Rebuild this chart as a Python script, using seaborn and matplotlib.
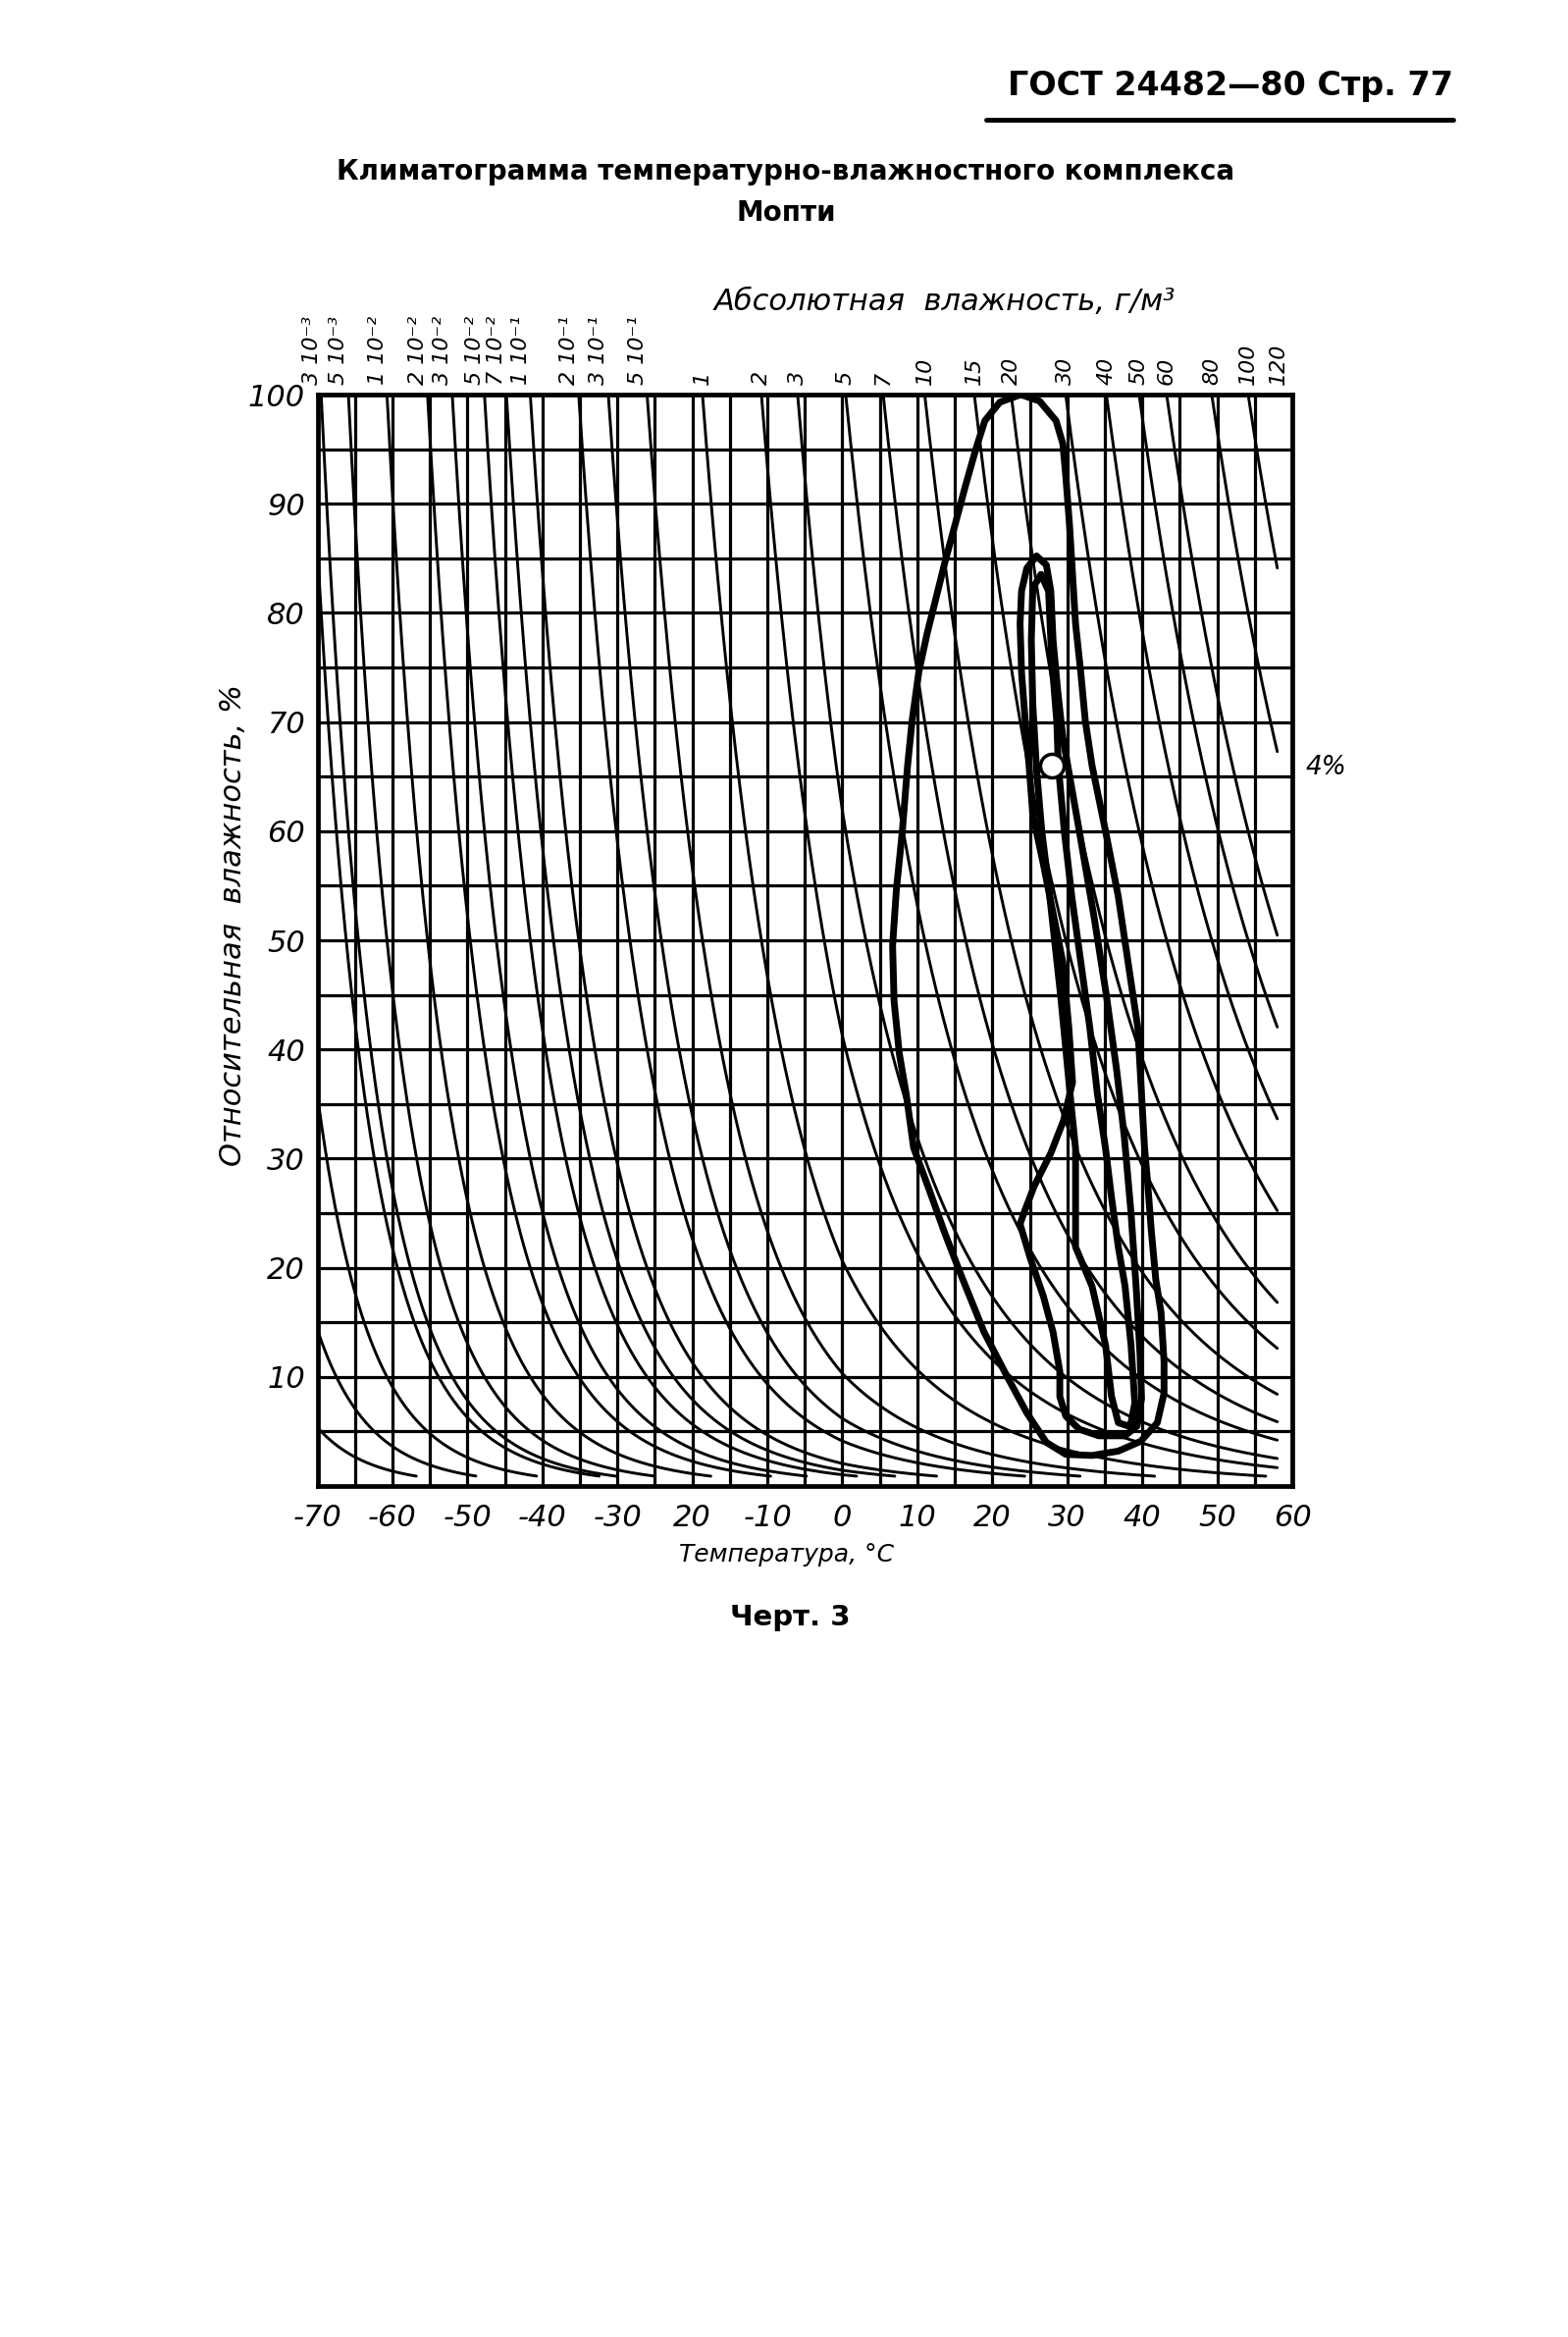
import numpy as np
import pandas as pd
import matplotlib
matplotlib.use("Agg")
import matplotlib.pyplot as plt
import seaborn as sns
from matplotlib.lines import Line2D

# ---------------- data ----------------
# absolute humidity iso-lines, g/m^3 (labelled ones)
abs_hum = [3e-3, 5e-3, 1e-2, 2e-2, 3e-2, 5e-2, 7e-2, 1e-1, 2e-1, 3e-1, 5e-1,
           1, 2, 3, 5, 7, 10, 15, 20, 30, 40, 50, 60, 80, 100, 120]
abs_hum_labels = ["3 10⁻³", "5 10⁻³", "1 10⁻²", "2 10⁻²", "3 10⁻²", "5 10⁻²",
                  "7 10⁻²", "1 10⁻¹", "2 10⁻¹", "3 10⁻¹", "5 10⁻¹",
                  "1", "2", "3", "5", "7", "10", "15", "20", "30", "40", "50",
                  "60", "80", "100", "120"]
# unlabelled iso-lines entering from the left edge
abs_hum_extra = [2.4e-3, 1.0e-3, 4.0e-4, 1.5e-4]

x_ticks = [-70, -60, -50, -40, -30, -20, -10, 0, 10, 20, 30, 40, 50, 60]
x_tick_labels = ["-70", "-60", "-50", "-40", "-30", "20", "-10", "0", "10",
                 "20", "30", "40", "50", "60"]
y_ticks = [10, 20, 30, 40, 50, 60, 70, 80, 90, 100]

# climatogram contours (temperature °C, relative humidity %)
loopA_T = [23.8, 21.0, 19.0, 17.8, 16.4, 15.0, 13.7, 12.4, 11.3, 10.2, 9.3, 8.7,
           8.0, 7.2, 6.7, 6.9, 7.6, 8.5, 9.5, 11.5, 13.7, 15.9, 18.9, 22.0, 24.6,
           27.2, 29.8, 33.3, 36.8, 39.8, 42.0, 42.9, 42.9, 42.5, 41.8, 41.2, 40.7,
           40.3, 39.4, 38.1, 36.8, 35.1, 33.3, 32.4, 31.8, 31.1, 30.7, 30.3, 29.8,
           29.4, 28.5, 26.3, 23.8]
loopA_RH = [100, 99.3, 97.6, 95.0, 91.6, 88.0, 84.7, 81.1, 78.1, 74.6, 70.1, 66.0,
            60.0, 54.6, 49.5, 44.4, 39.6, 36.0, 31.0, 27.3, 23.1, 19.2, 14.1, 10.0,
            6.7, 4.0, 2.9, 2.8, 3.2, 4.1, 5.8, 8.5, 11.4, 15.9, 18.9, 23.4, 27.9,
            31.0, 42.0, 48.0, 54.0, 60.0, 66.0, 70.1, 74.5, 79.0, 83.5, 88.0, 92.5,
            95.5, 97.6, 99.4, 100]

loopB_T = [25.9, 24.6, 23.9, 23.7, 23.9, 24.4, 24.9, 25.4, 26.8, 28.1, 29.4, 30.2,
           30.7, 29.5, 27.8, 25.6, 24.2, 23.7, 25.0, 26.8, 28.1, 29.0, 29.0, 29.8,
           31.6, 34.2, 37.7, 39.3, 39.9, 39.7, 39.2, 38.5, 37.6, 36.6, 35.2, 33.6,
           31.6, 29.4, 28.7, 28.1, 27.8, 27.2, 25.9]
loopB_RH = [85.2, 84.1, 82.0, 79.0, 74.5, 70.0, 66.0, 61.5, 57.0, 52.5, 48.0, 42.0,
            37.0, 33.5, 30.5, 27.5, 25.0, 24.0, 21.0, 17.4, 14.1, 10.5, 8.2, 6.4,
            5.2, 4.6, 4.6, 5.5, 8.0, 12.0, 18.0, 25.0, 32.0, 38.0, 45.0, 52.0,
            60.0, 68.6, 73.0, 77.5, 82.0, 84.4, 85.2]

loopC_T = [26.5, 25.4, 25.2, 25.4, 25.9, 26.6, 27.5, 28.3, 29.1, 29.8, 30.5, 31.1,
           31.1, 33.3, 35.1, 35.9, 36.8, 38.1, 38.5, 39.0, 38.5, 37.7, 36.8, 35.9,
           35.1, 34.0, 33.0, 31.8, 30.6, 29.6, 28.8, 28.6, 27.9, 27.5, 26.5]
loopC_RH = [83.5, 82.3, 77.5, 71.6, 65.6, 60.0, 55.0, 50.0, 45.0, 40.0, 35.0, 30.9,
            21.9, 18.3, 12.9, 8.2, 5.8, 5.5, 5.8, 7.6, 12.9, 18.3, 21.9, 26.4,
            30.9, 36.0, 42.0, 48.0, 54.0, 60.0, 66.0, 70.0, 76.0, 82.0, 83.5]

marker_T = [28.0]
marker_RH = [66.0]


# ---------------- helpers ----------------
def rho_sat(T):
    """saturation water-vapour density, g/m^3 (ice below 0 °C)"""
    T = np.asarray(T, dtype=float)
    Tk = T + 273.15
    e_ice = np.exp(9.550426 - 5723.265 / Tk + 3.53068 * np.log(Tk) - 0.00728332 * Tk)
    e_w = 611.21 * np.exp((18.678 - T / 234.5) * (T / (257.14 + T)))
    e = np.where(T < 0, e_ice, e_w)
    return e / (461.5 * Tk) * 1000.0


Tgrid = np.linspace(-95, 75, 6001)
rgrid = rho_sat(Tgrid)


def dew_point(a):
    return float(np.interp(np.log(a), np.log(rgrid), Tgrid))


rows = []
for a in list(abs_hum) + list(abs_hum_extra):
    td = max(dew_point(a), -72.0)
    T = np.linspace(td, 58.0, 900)
    rh = 100.0 * a / rho_sat(T)
    keep = rh >= 0.9
    for t, r in zip(T[keep], rh[keep]):
        rows.append((a, t, r))
curves = pd.DataFrame(rows, columns=["a", "T", "RH"])

loops = pd.concat([
    pd.DataFrame({"loop": "A", "T": loopA_T, "RH": loopA_RH}),
    pd.DataFrame({"loop": "B", "T": loopB_T, "RH": loopB_RH}),
    pd.DataFrame({"loop": "C", "T": loopC_T, "RH": loopC_RH}),
], ignore_index=True)

# ---------------- figure ----------------
sns.set_theme(style="white")
plt.rcParams["font.family"] = ["DejaVu Sans"]
for k in ["text.color", "axes.labelcolor", "xtick.color", "ytick.color",
          "axes.edgecolor"]:
    plt.rcParams[k] = "black"

W, H = 1598, 2381
fig = plt.figure(figsize=(W / 100, H / 100), dpi=100)
fig.patch.set_facecolor("white")

L, R, T_, B_ = 323.5, 1317.0, 402.0, 1514.0
ax = fig.add_axes([L / W, 1 - B_ / H, (R - L) / W, (B_ - T_) / H])
ax.set_facecolor("white")

ax.set_xlim(-70, 60)
ax.set_ylim(0, 100)

# grid every 5 °C / 5 %
ax.set_xticks(np.arange(-70, 61, 5))
ax.set_yticks(np.arange(0, 101, 5))
ax.grid(True, color="black", lw=2.3)
ax.set_axisbelow(True)
xlab_map = dict(zip(x_ticks, x_tick_labels))
ax.set_xticklabels([xlab_map.get(int(v), "") for v in np.arange(-70, 61, 5)])
ax.set_yticklabels([str(int(v)) if int(v) in y_ticks else "" for v in np.arange(0, 101, 5)])
ax.tick_params(length=0, labelsize=22, pad=13, colors="black")
ax.tick_params(axis="y", pad=9)
for lab in ax.get_xticklabels() + ax.get_yticklabels():
    lab.set_fontstyle("italic")
    lab.set_color("black")
for s in ax.spines.values():
    s.set_color("black")
    s.set_linewidth(3.4)

# absolute-humidity iso-lines
sns.lineplot(data=curves, x="T", y="RH", units="a", estimator=None, color="black",
             lw=2.1, ax=ax, legend=False)

# climatogram contours
sns.lineplot(data=loops, x="T", y="RH", units="loop", estimator=None, sort=False,
             color="black", lw=5.0, ax=ax, legend=False,
             solid_joinstyle="round", solid_capstyle="round")
ax.scatter(marker_T, marker_RH, s=300, facecolor="white", edgecolor="black",
           linewidth=2.5, zorder=5)

ax.set_xlabel("")
ax.set_ylabel("")

# iso-line labels above the frame
for a, lab in zip(abs_hum, abs_hum_labels):
    td = dew_point(a)
    dx = -7 if a < 1 else 0
    ax.annotate(lab, xy=(td, 100), xycoords="data", xytext=(dx, 7),
                textcoords="offset points", rotation=90, ha="center", va="bottom",
                fontsize=16, fontstyle="italic", color="black",
                annotation_clip=False)

# texts
fig.text(1481 / W, 1 - 88 / H, "ГОСТ 24482—80 Стр. 77", ha="right", va="center",
         fontsize=24, fontweight="bold")
fig.add_artist(Line2D([1005 / W, 1481 / W], [1 - 122 / H, 1 - 122 / H],
                      color="black", lw=3.5, transform=fig.transFigure))
fig.text(801 / W, 1 - 175 / H, "Климатограмма температурно-влажностного комплекса",
         ha="center", va="center", fontsize=20, fontweight="heavy")
fig.text(801 / W, 1 - 217 / H, "Мопти", ha="center", va="center", fontsize=20,
         fontweight="heavy")
fig.text(963 / W, 1 - 307 / H, "Абсолютная  влажность, г/м³", ha="center",
         va="center", fontsize=22, fontstyle="italic")
fig.text(238 / W, 1 - 942 / H, "Относительная  влажность, %", ha="center",
         va="center", rotation=90, fontsize=22, fontstyle="italic")
fig.text(802 / W, 1 - 1584 / H, "Температура, °С", ha="center", va="center",
         fontsize=18, fontstyle="italic")
fig.text(1331 / W, 1 - 782 / H, "4%", ha="left", va="center", fontsize=19,
         fontstyle="italic")
fig.text(805 / W, 1 - 1648 / H, "Черт. 3", ha="center", va="center", fontsize=21,
         fontweight="heavy")

fig.savefig("out.png", dpi=100, facecolor="white")
